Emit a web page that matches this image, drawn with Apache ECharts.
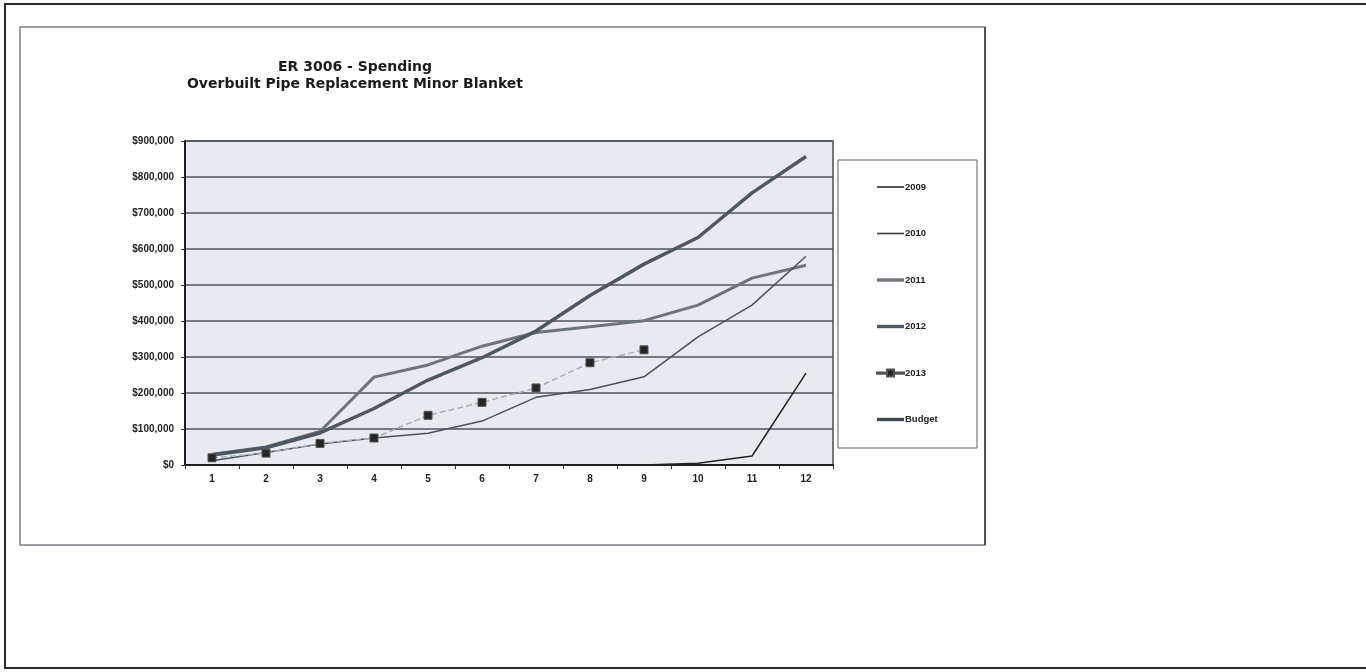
<!DOCTYPE html>
<html>
<head>
<meta charset="utf-8">
<title>ER 3006 - Spending</title>
<script src="https://cdn.jsdelivr.net/npm/echarts@6/dist/echarts.min.js"></script>
<style>
  html, body { margin: 0; padding: 0; background: #ffffff; }
  #chart { width: 1366px; height: 672px; }
</style>
</head>
<body>
<div id="chart"></div>
<script>
// Cumulative spending by month, one array per year
const months = ['1', '2', '3', '4', '5', '6', '7', '8', '9', '10', '11', '12'];
const spend2009 = [0, 0, 0, 0, 0, 0, 0, 0, 0, 5000, 25000, 255000];
const spend2010 = [12000, 35000, 58000, 75000, 88000, 122000, 188000, 210000, 245000, 356000, 444000, 580000];
const spend2011 = [30000, 50000, 93000, 244000, 278000, 330000, 368000, 384000, 401000, 444000, 519000, 555000];
const spend2012 = [28000, 48000, 89000, 157000, 236000, 298000, 372000, 471000, 558000, 632000, 756000, 857000];
const spend2013 = [20000, 33000, 60000, 75000, 138000, 174000, 214000, 284000, 320000];
const budget = [];
const yTicks = [0, 100000, 200000, 300000, 400000, 500000, 600000, 700000, 800000, 900000];

const chart = echarts.init(document.getElementById('chart'), null, { renderer: 'canvas' });

const money = v => '$' + Number(v).toLocaleString('en-US');
const font = 'Liberation Sans, Arial, sans-serif';

// legend glyphs: plain strokes of different weight, dashed stroke with a square
const thinIcon = 'path://M0,0h27v1.6h-27z';
const thickIcon = 'path://M0,0h27v3.4h-27z';
const markerIcon = 'path://M0,3h6v1.2h-6z M8,3h2v1.2h-2z M17,3h2v1.2h-2z M21,3h6v1.2h-6z M10,0h7v7h-7z';

chart.setOption({
  backgroundColor: '#ffffff',
  animation: false,
  textStyle: { fontFamily: font },
  title: {
    text: 'ER 3006 - Spending\nOverbuilt Pipe Replacement Minor Blanket',
    left: 350,
    top: 54,
    textAlign: 'center',
    textStyle: { fontSize: 14, fontWeight: 'bold', color: '#1a1a1a', lineHeight: 17, fontFamily: 'DejaVu Sans, sans-serif' }
  },
  legend: {
    orient: 'vertical',
    left: 871,
    top: 177,
    itemWidth: 27,
    itemHeight: 10,
    itemGap: 36.5,
    symbolKeepAspect: true,
    textStyle: { fontSize: 9.5, fontWeight: 'bold', color: '#222', padding: [0, 0, 0, -4] },
    data: [
      { name: '2009', icon: thinIcon },
      { name: '2010', icon: thinIcon },
      { name: '2011', icon: thickIcon },
      { name: '2012', icon: thickIcon },
      { name: '2013', icon: markerIcon },
      { name: 'Budget', icon: thickIcon }
    ]
  },
  grid: {
    left: 185, right: 533, top: 141, bottom: 207,
    show: true,
    backgroundColor: '#e8eaef',
    borderColor: '#4a4f58',
    borderWidth: 1.5
  },
  xAxis: {
    type: 'category',
    data: months,
    boundaryGap: true,
    axisLine: { lineStyle: { color: '#1e1e1e', width: 2 } },
    axisTick: { show: true, length: 4, lineStyle: { color: '#333', width: 1 } },
    axisLabel: { fontSize: 10, fontWeight: 'bold', color: '#222', margin: 9 }
  },
  yAxis: {
    type: 'value',
    min: yTicks[0],
    max: yTicks[yTicks.length - 1],
    interval: 100000,
    axisLine: { show: true, lineStyle: { color: '#1e1e1e', width: 2 } },
    axisTick: { show: true, length: 4, lineStyle: { color: '#333' } },
    axisLabel: { fontSize: 10, fontWeight: 'bold', color: '#222', margin: 11, formatter: money },
    splitLine: { lineStyle: { color: '#4f545c', width: 1.5 } }
  },
  series: [
    {
      name: '2009', type: 'line', data: spend2009, symbol: 'none',
      lineStyle: { color: '#202225', width: 1.5 }, itemStyle: { color: '#2c2f34' }, z: 3
    },
    {
      name: '2010', type: 'line', data: spend2010, symbol: 'none',
      lineStyle: { color: '#4a525c', width: 1.5 }, itemStyle: { color: '#3a4149' }, z: 3
    },
    {
      name: '2011', type: 'line', data: spend2011, symbol: 'none',
      lineStyle: { color: '#6e747c', width: 3 }, itemStyle: { color: '#6e747c' }, z: 2
    },
    {
      name: '2012', type: 'line', data: spend2012, symbol: 'none',
      lineStyle: { color: '#4e5863', width: 3.5 }, itemStyle: { color: '#4e5863' }, z: 2
    },
    {
      name: '2013', type: 'line', data: spend2013, symbol: 'rect', symbolSize: 8, showSymbol: true,
      lineStyle: { color: '#a9afb8', width: 1.5, type: 'dashed' },
      itemStyle: { color: '#262626', borderColor: '#555', borderWidth: 1 }, z: 4
    },
    {
      name: 'Budget', type: 'line', data: budget, symbol: 'none',
      lineStyle: { color: '#3f4852', width: 3 }, itemStyle: { color: '#3f4852' }, z: 2
    }
  ],
  graphic: [
    // page frame
    { type: 'rect', shape: { x: 5, y: 4, width: 1375, height: 664 }, style: { fill: null, stroke: '#2a2a2a', lineWidth: 2 }, z: -10, silent: true },
    // chart area frame
    { type: 'rect', shape: { x: 20, y: 27, width: 965, height: 518 }, style: { fill: null, stroke: '#7d828a', lineWidth: 1.5 }, z: -9, silent: true },
    { type: 'line', shape: { x1: 985, y1: 27, x2: 985, y2: 545 }, style: { stroke: '#3a3a3a', lineWidth: 1.5 }, z: -8, silent: true },
    // legend box
    { type: 'rect', shape: { x: 838, y: 160, width: 139, height: 288 }, style: { fill: '#ffffff', stroke: '#5a5f66', lineWidth: 1 }, z: -5, silent: true }
  ]
});
</script>
</body>
</html>
